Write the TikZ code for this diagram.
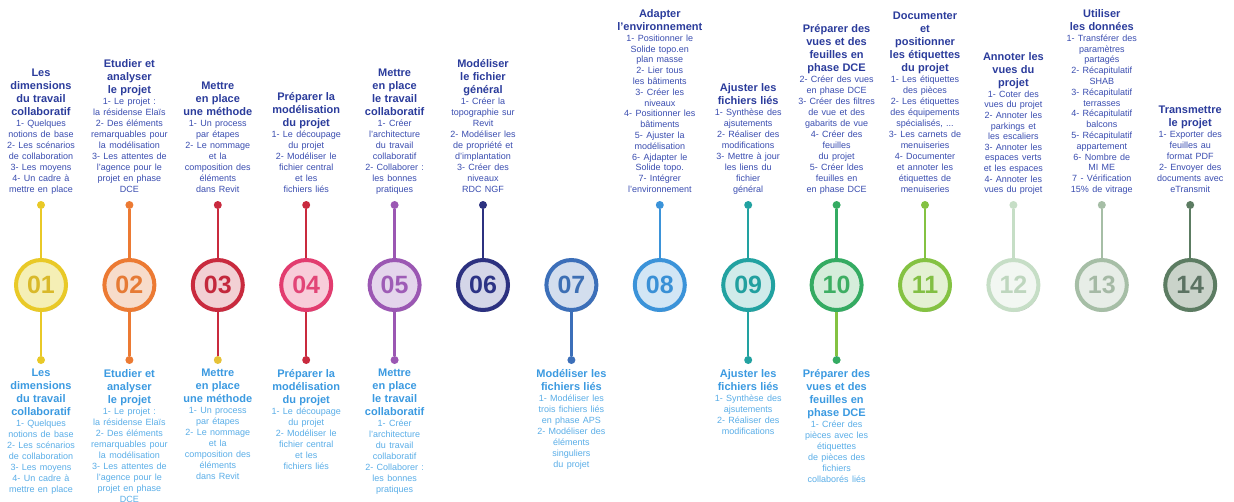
\documentclass[tikz,border=0pt]{standalone}
\usepackage{fontspec}
\setmainfont{Liberation Sans}
\usetikzlibrary{shadows,backgrounds}
\definecolor{r1}{HTML}{E9C927}\definecolor{f1}{HTML}{F5EFB5}\definecolor{n1}{HTML}{D9B92A}
\definecolor{r2}{HTML}{EC7A33}\definecolor{f2}{HTML}{F7DCCB}\definecolor{n2}{HTML}{E67A35}
\definecolor{r3}{HTML}{C92A3E}\definecolor{f3}{HTML}{F2D0D4}\definecolor{n3}{HTML}{C3283C}
\definecolor{r4}{HTML}{E23C6F}\definecolor{f4}{HTML}{F8CDDA}\definecolor{n4}{HTML}{E24577}
\definecolor{r5}{HTML}{9B57B3}\definecolor{f5}{HTML}{E4D5EC}\definecolor{n5}{HTML}{9E5CB6}
\definecolor{r6}{HTML}{2C3180}\definecolor{f6}{HTML}{D4D6E8}\definecolor{n6}{HTML}{2C3385}
\definecolor{r7}{HTML}{3C6FB9}\definecolor{f7}{HTML}{D3DEEE}\definecolor{n7}{HTML}{3D6FB4}
\definecolor{r8}{HTML}{3B93D9}\definecolor{f8}{HTML}{D2E6F5}\definecolor{n8}{HTML}{3990D6}
\definecolor{r9}{HTML}{22A2A1}\definecolor{f9}{HTML}{D0EBEA}\definecolor{n9}{HTML}{22A09F}
\definecolor{r10}{HTML}{34AB62}\definecolor{f10}{HTML}{D5EDDB}\definecolor{n10}{HTML}{3DAE63}
\definecolor{r11}{HTML}{84C242}\definecolor{f11}{HTML}{E4F1D3}\definecolor{n11}{HTML}{82BF43}
\definecolor{r12}{HTML}{C6DEC6}\definecolor{f12}{HTML}{F2F7F2}\definecolor{n12}{HTML}{BED6BE}
\definecolor{r13}{HTML}{A6BEA6}\definecolor{f13}{HTML}{E7EDE7}\definecolor{n13}{HTML}{A5B9A5}
\definecolor{r14}{HTML}{5C7C62}\definecolor{f14}{HTML}{CAD3CA}\definecolor{n14}{HTML}{5B7262}
\definecolor{ydot}{HTML}{E6C238}
\definecolor{tophd}{HTML}{2B3C9C}\definecolor{topbd}{HTML}{3A4DB0}
\definecolor{bothd}{HTML}{3B9AE1}\definecolor{botbd}{HTML}{5AAEE8}
\newcommand\TopTxt[3][11]{\fontsize{11}{13}\selectfont\bfseries #2\par\fontsize{9}{#1}\selectfont\mdseries\leavevmode\color{topbd}#3\strut\par}
\newcommand\BotTxt[3][11]{\fontsize{11}{13}\selectfont\bfseries #2\par\fontsize{9}{#1}\selectfont\mdseries\leavevmode\color{botbd}#3\par}
\tikzset{
  num/.style={circle, minimum size=50pt, inner sep=0pt, line width=4pt,
    font=\fontsize{25}{25}\selectfont\bfseries,
    drop shadow={shadow xshift=1.2pt, shadow yshift=-1.8pt, opacity=0.45, fill=black!60}},
  dot/.style={circle, minimum size=8pt, inner sep=0pt},
  vline/.style={line width=2.4pt},
  topblk/.style={anchor=south, text width=100pt, align=center, inner sep=0pt, text=tophd},
  botblk/.style={anchor=north, text width=100pt, align=center, inner sep=0pt, text=bothd},
}
\begin{document}
\begin{tikzpicture}[x=1pt,y=-1pt]
\useasboundingbox (0,0) rectangle (1234,501);
\clip (0,0) rectangle (1234,501);
\fill[white] (0,0) rectangle (1234,501);
% circles
\node[num, draw=r1, fill=f1, text=n1] (c1) at (41,285) {01};
\node[num, draw=r2, fill=f2, text=n2] (c2) at (129.4,285) {02};
\node[num, draw=r3, fill=f3, text=n3] (c3) at (217.8,285) {03};
\node[num, draw=r4, fill=f4, text=n4] (c4) at (306.2,285) {04};
\node[num, draw=r5, fill=f5, text=n5] (c5) at (394.6,285) {05};
\node[num, draw=r6, fill=f6, text=n6] (c6) at (483,285) {06};
\node[num, draw=r7, fill=f7, text=n7] (c7) at (571.4,285) {07};
\node[num, draw=r8, fill=f8, text=n8] (c8) at (659.8,285) {08};
\node[num, draw=r9, fill=f9, text=n9] (c9) at (748.2,285) {09};
\node[num, draw=r10, fill=f10, text=n10] (c10) at (836.6,285) {10};
\node[num, draw=r11, fill=f11, text=n11] (c11) at (925,285) {11};
\node[num, draw=r12, fill=f12, text=n12] (c12) at (1013.4,285) {12};
\node[num, draw=r13, fill=f13, text=n13] (c13) at (1101.8,285) {13};
\node[num, draw=r14, fill=f14, text=n14] (c14) at (1190.2,285) {14};
% horizontal connectors
\begin{scope}[on background layer]
\shade[left color=r1,right color=r2] ([yshift=-2pt]c1.center) rectangle ([yshift=2pt]c2.center);
\shade[left color=r2,right color=r3] ([yshift=-2pt]c2.center) rectangle ([yshift=2pt]c3.center);
\shade[left color=r3,right color=r4] ([yshift=-2pt]c3.center) rectangle ([yshift=2pt]c4.center);
\shade[left color=r4,right color=r5] ([yshift=-2pt]c4.center) rectangle ([yshift=2pt]c5.center);
\shade[left color=r5,right color=r6] ([yshift=-2pt]c5.center) rectangle ([yshift=2pt]c6.center);
\shade[left color=r6,right color=r7] ([yshift=-2pt]c6.center) rectangle ([yshift=2pt]c7.center);
\shade[left color=r7,right color=r8] ([yshift=-2pt]c7.center) rectangle ([yshift=2pt]c8.center);
\shade[left color=r8,right color=r9] ([yshift=-2pt]c8.center) rectangle ([yshift=2pt]c9.center);
\shade[left color=r9,right color=r10] ([yshift=-2pt]c9.center) rectangle ([yshift=2pt]c10.center);
\shade[left color=r10,right color=r11] ([yshift=-2pt]c10.center) rectangle ([yshift=2pt]c11.center);
\shade[left color=r11,right color=r12] ([yshift=-2pt]c11.center) rectangle ([yshift=2pt]c12.center);
\shade[left color=r12,right color=r13] ([yshift=-2pt]c12.center) rectangle ([yshift=2pt]c13.center);
\shade[left color=r13,right color=r14] ([yshift=-2pt]c13.center) rectangle ([yshift=2pt]c14.center);
\end{scope}
% top dots and lines
\node[dot, fill=r1] (t1) at (41,205) {};
\node[dot, fill=r2] (t2) at (129.4,205) {};
\node[dot, fill=r3] (t3) at (217.8,205) {};
\node[dot, fill=r3] (t4) at (306.2,205) {};
\node[dot, fill=r5] (t5) at (394.6,205) {};
\node[dot, fill=r6] (t6) at (483,205) {};
\node[dot, fill=r8] (t8) at (659.8,205) {};
\node[dot, fill=r9] (t9) at (748.2,205) {};
\node[dot, fill=r10] (t10) at (836.6,205) {};
\node[dot, fill=r11] (t11) at (925,205) {};
\node[dot, fill=r12] (t12) at (1013.4,205) {};
\node[dot, fill=r13] (t13) at (1101.8,205) {};
\node[dot, fill=r14] (t14) at (1190.2,205) {};
\draw[vline, r1] (t1) -- (c1);
\draw[vline, r2] (t2) -- (c2);
\draw[vline, r3] (t3) -- (c3);
\draw[vline, r3] (t4) -- (c4);
\draw[vline, r5] (t5) -- (c5);
\draw[vline, r6] (t6) -- (c6);
\draw[vline, r8] (t8) -- (c8);
\draw[vline, r9] (t9) -- (c9);
\draw[vline, r10] (t10) -- (c10);
\draw[vline, r11] (t11) -- (c11);
\draw[vline, r12] (t12) -- (c12);
\draw[vline, r13] (t13) -- (c13);
\draw[vline, r14] (t14) -- (c14);
% bottom dots and lines
\node[dot, fill=r1] (b1) at (41,360) {};
\node[dot, fill=r2] (b2) at (129.4,360) {};
\node[dot, fill=ydot] (b3) at (217.8,360) {};
\node[dot, fill=r3] (b4) at (306.2,360) {};
\node[dot, fill=r5] (b5) at (394.6,360) {};
\node[dot, fill=r7] (b7) at (571.4,360) {};
\node[dot, fill=r9] (b9) at (748.2,360) {};
\node[dot, fill=r10] (b10) at (836.6,360) {};
\draw[vline, r1] (c1) -- (b1);
\draw[vline, r2] (c2) -- (b2);
\draw[vline, r3] (c3) -- (b3);
\draw[vline, r3] (c4) -- (b4);
\draw[vline, r5] (c5) -- (b5);
\draw[vline, r7] (c7) -- (b7);
\draw[vline, r9] (c9) -- (b9);
\draw[vline, r11] (c10) -- (b10);
% top texts
\node[topblk] (T1) at (41,196) {\TopTxt{Les\\dimensions\\du travail\\collaboratif}{1- Quelques\\notions de base\\2- Les scénarios\\de collaboration\\3- Les moyens\\4- Un cadre à\\mettre en place}};
\node[topblk] (T2) at (129.4,196) {\TopTxt{Etudier et\\analyser\\le projet}{1- Le projet :\\la résidense Elaïs\\2- Des éléments\\remarquables pour\\la modélisation\\3- Les attentes de\\l'agence pour le\\projet en phase\\DCE}};
\node[topblk] (T3) at (217.8,196) {\TopTxt{Mettre\\en place\\une méthode}{1- Un process\\par étapes\\2- Le nommage\\et la\\composition des\\éléments\\dans Revit}};
\node[topblk] (T4) at (306.2,196) {\TopTxt{Préparer la\\modélisation\\du projet}{1- Le découpage\\du projet\\2- Modéliser le\\fichier central\\et les\\fichiers liés}};
\node[topblk] (T5) at (394.6,196) {\TopTxt{Mettre\\en place\\le travail\\collaboratif}{1- Créer\\l'architecture\\du travail\\collaboratif\\2- Collaborer :\\les bonnes\\pratiques}};
\node[topblk] (T6) at (483,196) {\TopTxt{Modéliser\\le fichier\\général}{1- Créer la\\topographie sur\\Revit\\2- Modéliser les\\de propriété et\\d'implantation\\3- Créer des\\niveaux\\RDC NGF}};
\node[topblk] (T8) at (659.8,196) {\TopTxt[10.8]{Adapter\\l'environnement}{1- Positionner le\\Solide topo.en\\plan masse\\2- Lier tous\\les bâtiments\\3- Créer les\\niveaux\\4- Positionner les\\bâtiments\\5- Ajuster la\\modélisation\\6- Ajdapter le\\Solide topo.\\7- Intégrer\\l'environnement}};
\node[topblk] (T9) at (748.2,196) {\TopTxt{Ajuster les\\fichiers liés}{1- Synthèse des\\ajsutements\\2- Réaliser des\\modifications\\3- Mettre à jour\\les liens du\\fichier\\général}};
\node[topblk] (T10) at (836.6,196) {\TopTxt{Préparer des\\vues et des\\feuilles en\\phase DCE}{2- Créer des vues\\en phase DCE\\3- Créer des filtres\\de vue et des\\gabarits de vue\\4- Créer des\\feuilles\\du projet\\5- Créer ldes\\feuilles en\\en phase DCE}};
\node[topblk] (T11) at (925,196) {\TopTxt{Documenter\\et\\positionner\\les étiquettes\\du projet}{1- Les étiquettes\\des pièces\\2- Les étiquettes\\des équipements\\spécialisés, ...\\3- Les carnets de\\menuiseries\\4- Documenter\\et annoter les\\étiquettes de\\menuiseries}};
\node[topblk] (T12) at (1013.4,196) {\TopTxt[10.6]{Annoter les\\vues du\\projet}{1- Coter des\\vues du projet\\2- Annoter les\\parkings et\\les escaliers\\3- Annoter les\\espaces verts\\et les espaces\\4- Annoter les\\vues du projet}};
\node[topblk] (T13) at (1101.8,196) {\TopTxt[10.8]{Utiliser\\les données}{1- Transférer des\\paramètres\\partagés\\2- Récapitulatif\\SHAB\\3- Récapitulatif\\terrasses\\4- Récapitulatif\\balcons\\5- Récapitulatif\\appartement\\6- Nombre de\\MI ME\\7 - Vérification\\15\% de vitrage}};
\node[topblk] (T14) at (1190.2,196) {\TopTxt{Transmettre\\le projet}{1- Exporter des\\feuilles au\\format PDF\\2- Envoyer des\\documents avec\\eTransmit}};
% bottom texts
\node[botblk] (B1) at (41,369) {\BotTxt{Les\\dimensions\\du travail\\collaboratif}{1- Quelques\\notions de base\\2- Les scénarios\\de collaboration\\3- Les moyens\\4- Un cadre à\\mettre en place}};
\node[botblk] (B2) at (129.4,369) {\BotTxt{Etudier et\\analyser\\le projet}{1- Le projet :\\la résidense Elaïs\\2- Des éléments\\remarquables pour\\la modélisation\\3- Les attentes de\\l'agence pour le\\projet en phase\\DCE}};
\node[botblk] (B3) at (217.8,369) {\BotTxt{Mettre\\en place\\une méthode}{1- Un process\\par étapes\\2- Le nommage\\et la\\composition des\\éléments\\dans Revit}};
\node[botblk] (B4) at (306.2,369) {\BotTxt{Préparer la\\modélisation\\du projet}{1- Le découpage\\du projet\\2- Modéliser le\\fichier central\\et les\\fichiers liés}};
\node[botblk] (B5) at (394.6,369) {\BotTxt{Mettre\\en place\\le travail\\collaboratif}{1- Créer\\l'architecture\\du travail\\collaboratif\\2- Collaborer :\\les bonnes\\pratiques}};
\node[botblk] (B7) at (571.4,369) {\BotTxt{Modéliser les\\fichiers liés}{1- Modéliser les\\trois fichiers liés\\en phase APS\\2- Modéliser des\\éléments\\singuliers\\du projet}};
\node[botblk] (B9) at (748.2,369) {\BotTxt{Ajuster les\\fichiers liés}{1- Synthèse des\\ajsutements\\2- Réaliser des\\modifications}};
\node[botblk] (B10) at (836.6,369) {\BotTxt{Préparer des\\vues et des\\feuilles en\\phase DCE}{1- Créer des\\pièces avec les\\étiquettes\\de pièces des\\fichiers\\collaborés liés}};
\end{tikzpicture}
\end{document}
